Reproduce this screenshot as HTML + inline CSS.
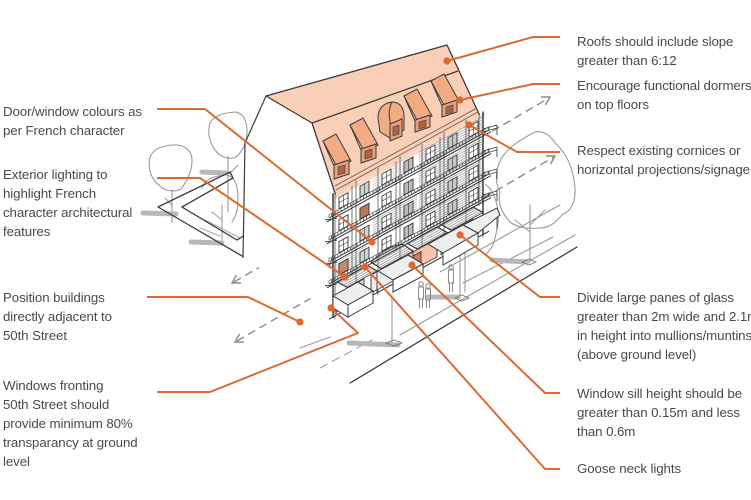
<!DOCTYPE html>
<html><head><meta charset="utf-8">
<style>
html,body{margin:0;padding:0;background:#fff;}
body{width:751px;height:500px;position:relative;overflow:hidden;}
svg{position:absolute;left:0;top:0;}
.t{position:absolute;font-family:"Liberation Sans",sans-serif;font-size:13.3px;line-height:19px;color:#4a4a4a;white-space:nowrap;letter-spacing:-0.1px;}
</style></head><body>
<svg width="751" height="500" viewBox="0 0 751 500" xmlns="http://www.w3.org/2000/svg">
<defs>
<pattern id="hh" width="3" height="2.4" patternUnits="userSpaceOnUse"><path d="M0 1.2H3" stroke="#7a7a7a" stroke-width="0.7"/></pattern>
<pattern id="vh" width="3.2" height="3" patternUnits="userSpaceOnUse"><path d="M1.6 0V3" stroke="#444" stroke-width="0.7"/></pattern>
</defs>

<!-- ground / street lines -->
<g fill="none" stroke="#9a9a9a" stroke-width="1.1" stroke-linecap="round">
<line x1="300" y1="348" x2="330" y2="337"/>
<line x1="400" y1="335" x2="575" y2="235"/>
<line x1="440" y1="272" x2="560" y2="205"/>
<line x1="463" y1="283" x2="553" y2="237"/>
<line x1="320" y1="368" x2="372" y2="340" stroke-dasharray="8 6"/>
<line x1="392" y1="298" x2="392" y2="345"/>
<line x1="460" y1="252" x2="460" y2="298"/>
<line x1="530" y1="205" x2="530" y2="262"/>
<line x1="530" y1="225" x2="545" y2="210"/>
<line x1="530" y1="232" x2="515" y2="220"/>
<path d="M497,170 C500,155 510,145 535,132 C545,130 552,138 556,144 C565,152 573,165 575,188 C576,202 570,212 563,214 C556,222 550,228 540,228 C528,229 518,228 510,222 C503,214 497,205 500,192 C496,185 496,178 497,170 Z"/>
<path d="M480,182 C488,184 494,192 497,205 C500,220 497,232 493,245 C490,250 488,253 485,255"/>
<line x1="465" y1="245" x2="465" y2="292"/>
<path d="M150,157 C153,150 160,146 172,145 C184,144 192,150 192,160 C192,170 188,180 181,189 C175,192 167,192 160,186 C152,180 147,170 150,157 Z"/>
<line x1="172" y1="190" x2="172" y2="222"/>
<line x1="172" y1="205" x2="165" y2="198"/>
<path d="M210,123 C214,116 222,113 235,112 C243,113 247,120 247,132 C247,143 242,152 236,157 C230,160 221,158 215,150 C210,143 207,133 210,123 Z"/>
<line x1="228" y1="156" x2="228" y2="212"/>
<line x1="228" y1="175" x2="238" y2="165"/>
<path d="M202,188 C205,180 212,176 226,175 C235,176 238,185 238,200 C238,210 236,216 232,222"/>
<line x1="222" y1="205" x2="222" y2="246"/>
<line x1="222" y1="220" x2="212" y2="212"/>
<line x1="205" y1="220" x2="240" y2="238" stroke="#aaa"/>
<line x1="200" y1="228" x2="220" y2="236" stroke="#aaa"/>
</g>

<g stroke="#b8b8b8" stroke-width="5" stroke-linecap="round" fill="none">
<line x1="143" y1="213" x2="176" y2="214"/>
<line x1="202" y1="172" x2="226" y2="173"/>
<line x1="191" y1="242" x2="222" y2="243"/>
<line x1="349" y1="343" x2="398" y2="345"/>
<line x1="428" y1="297" x2="458" y2="297"/>
<line x1="492" y1="260" x2="527" y2="262"/>
</g>
<g fill="none" stroke="#777" stroke-width="0.9">
<path d="M386,343 l8,-3 l8,3 l-8,3 z"/>
<path d="M455,298 l7,-3 l7,3 l-7,3 z"/>
<path d="M522,262 l7,-3 l7,3 l-7,3 z"/>
</g>

<g fill="none" stroke="#888" stroke-width="1">
<circle cx="421" cy="284" r="2.3"/><path d="M418.5,287 h5 v12 h-5 z M419.5,299 v9 M422.5,299 v9"/>
<circle cx="428" cy="286" r="2.3"/><path d="M425.5,289 h5 v11 h-5 z M426.5,300 v8 M429.5,300 v8"/>
<circle cx="451" cy="267" r="2.3"/><path d="M448.5,270 h5 v13 h-5 z M449.5,283 v9 M452.5,283 v9"/>
</g>

<g fill="none" stroke="#8a8a8a" stroke-width="1.4">
<line x1="234" y1="282" x2="549" y2="98" stroke-dasharray="8 5"/>
<line x1="237" y1="341" x2="554" y2="157" stroke-dasharray="8 5"/>
<path d="M241,283 L232,283 L236.5,275"/>
<path d="M244,342 L235,342 L239.5,334"/>
<path d="M541,97 L550,97 L545.5,105"/>
<path d="M546,156 L555,156 L550.5,164"/>
</g>

<g fill="none" stroke="#3c3c3c" stroke-width="1.3" stroke-linecap="round">
<line x1="158" y1="207" x2="316" y2="299"/>
<path d="M158,207 L230,172 L233,178 L182,207 L237,240 L245,235"/>
<line x1="350" y1="383" x2="577" y2="247"/>
</g>

<path d="M266,96 L312,123 L335,195 L333,312 L243,258 L245,143 Z" fill="#fff"/>
<g fill="none" stroke="#3c3c3c" stroke-width="1.2">
<path d="M266,96 L245,143 L243,258"/>
</g>

<!-- roof -->
<path d="M266,96 L447,45 L480,116 L336,196 L312,123 Z" fill="#f9d0b7" stroke="#3a3a3a" stroke-width="1.3" stroke-linejoin="round"/>
<line x1="312" y1="123" x2="458" y2="71" stroke="#3a3a3a" stroke-width="1.2"/>
<g stroke="#6b5a50" stroke-width="0.8" fill="none">
<line x1="335" y1="186" x2="477" y2="108"/>
<line x1="336" y1="190" x2="478" y2="112"/>
</g>

<g stroke="#3a3a3a" stroke-width="1">
<g transform="translate(323,134)">
<path d="M0,7 L13,0 L28,27 L14,33 Z" fill="#f3ab84"/>
<path d="M0,7 L11,32" fill="none"/>
<path d="M11,31 L26,26 L26,40 L11,45 Z" fill="#eba07a"/>
<path d="M15,33 L22,31 L22,39 L15,41 Z" fill="#a9654a" stroke-width="0.6"/>
</g>
<g transform="translate(350,118)">
<path d="M0,7 L13,0 L28,27 L14,33 Z" fill="#f3ab84"/>
<path d="M0,7 L11,32" fill="none"/>
<path d="M11,31 L26,26 L26,40 L11,45 Z" fill="#eba07a"/>
<path d="M15,33 L22,31 L22,39 L15,41 Z" fill="#a9654a" stroke-width="0.6"/>
</g>
<g transform="translate(377,102)">
<path d="M1,16 C1,6 7,1 15,0 C23,0 27,6 27,14 L27,28 L13,36 L3,30 Z" fill="#f3ab84"/>
<path d="M15,0 C11,8 12,14 13,18 L13,36" fill="none"/>
<path d="M13,22 L25,17 L25,34 L13,39 Z" fill="#eba07a"/>
<path d="M16,25 L22,23 L22,32 L16,34 Z" fill="#a9654a" stroke-width="0.6"/>
</g>
<g transform="translate(404,89)">
<path d="M0,7 L13,0 L28,27 L14,33 Z" fill="#f3ab84"/>
<path d="M0,7 L11,32" fill="none"/>
<path d="M11,31 L26,26 L26,38 L11,43 Z" fill="#eba07a"/>
<path d="M15,33 L22,31 L22,38 L15,40 Z" fill="#a9654a" stroke-width="0.6"/>
</g>
<g transform="translate(431,74)">
<path d="M0,7 L13,0 L28,27 L14,33 Z" fill="#f3ab84"/>
<path d="M0,7 L11,32" fill="none"/>
<path d="M11,31 L26,26 L26,38 L11,43 Z" fill="#eba07a"/>
<path d="M15,33 L22,31 L22,38 L15,40 Z" fill="#a9654a" stroke-width="0.6"/>
</g>
</g>

<!-- facade (skewed) -->
<g transform="matrix(1,-0.55,0,1,333,196)">
<rect x="0" y="0" width="152" height="122" fill="#fff"/>
<rect x="0" y="0" width="152" height="4" fill="#f6d6c4"/>
<rect x="86" y="2" width="64" height="86" fill="url(#hh)" opacity="0.85"/>
<rect x="40" y="46" width="44" height="22" fill="url(#hh)" opacity="0.7"/>
<rect x="0" y="68" width="34" height="20" fill="url(#hh)" opacity="0.7"/>
<rect x="40" y="4" width="30" height="18" fill="url(#hh)" opacity="0.5"/>
<g stroke="#555" stroke-width="0.8">
<line x1="2" y1="-3" x2="2" y2="124"/><line x1="23" y1="-3" x2="23" y2="124"/>
<line x1="45" y1="-3" x2="45" y2="124"/><line x1="67" y1="-3" x2="67" y2="124"/>
<line x1="89" y1="-3" x2="89" y2="124"/><line x1="111" y1="-3" x2="111" y2="124"/>
<line x1="133" y1="-3" x2="133" y2="124"/><line x1="150" y1="-3" x2="150" y2="124"/>
<line x1="19" y1="0" x2="19" y2="90"/><line x1="63" y1="0" x2="63" y2="90"/>
<line x1="107" y1="0" x2="107" y2="90"/><line x1="146" y1="0" x2="146" y2="90"/>
</g>
<g stroke="#333" stroke-width="0.9">
<g id="fl">
<rect x="6" y="5" width="9" height="11" fill="#fff"/><rect x="27" y="5" width="9" height="11" fill="#d0d0d0"/>
<rect x="49" y="5" width="9" height="11" fill="#fff"/><rect x="71" y="5" width="9" height="11" fill="#bdbdbd"/>
<rect x="93" y="5" width="9" height="11" fill="#fff"/><rect x="115" y="5" width="9" height="11" fill="#c8c8c8"/>
<rect x="136" y="5" width="9" height="11" fill="#fff"/>
<path d="M10.5,5v11M31.5,5v11M53.5,5v11M75.5,5v11M97.5,5v11M119.5,5v11M140.5,5v11M6,10h9M49,10h9M93,10h9M136,10h9" stroke-width="0.6"/>
<rect x="-4" y="16.5" width="160" height="3" fill="url(#vh)" stroke-width="0.6"/>
<line x1="-6" y1="22.5" x2="158" y2="22.5" stroke-width="1.1"/>
<line x1="-3" y1="20" x2="156" y2="20" stroke-width="0.6"/>
</g>
<use href="#fl" y="22"/>
<use href="#fl" y="44"/>
<use href="#fl" y="66"/>
</g>
<rect x="27" y="27" width="9" height="11" fill="#b9785a" stroke="#333" stroke-width="0.8"/>
<rect x="6" y="71" width="9" height="11" fill="#c58a6c" stroke="#333" stroke-width="0.8"/>
<g stroke="#333" stroke-width="0.9">
<rect x="3" y="100" width="28" height="18" fill="#f1dccf"/>
<rect x="38" y="100" width="30" height="18" fill="#ededed"/>
<rect x="74" y="100" width="30" height="18" fill="#f4c5aa"/>
<rect x="108" y="100" width="32" height="18" fill="#e6e6e6"/>
<rect x="80" y="104" width="8" height="12" fill="#c4805f"/>
<rect x="116" y="103" width="8" height="12" fill="#a78673"/>
<rect x="10" y="103" width="7" height="12" fill="#d79e80"/>
<path d="M4,88 L34,88 L44,99 L14,99 Z" fill="url(#hh)"/>
<path d="M38,87 C48,82 62,82 70,87 L80,99 L48,99 Z" fill="url(#hh)"/>
<path d="M74,88 L104,88 L114,99 L84,99 Z" fill="url(#hh)"/>
<path d="M108,88 L140,88 L150,99 L118,99 Z" fill="url(#hh)"/>
<path d="M44,99 v22 M80,99 v22 M114,99 v22 M150,99 v22" />
<line x1="-4" y1="121" x2="156" y2="121" stroke-width="1.2"/>
</g>
</g>
<g fill="none" stroke="#333" stroke-width="1.4">
<line x1="333" y1="193" x2="333" y2="318"/>
<line x1="483" y1="112" x2="483" y2="235"/>
</g>
<g fill="none" stroke="#444" stroke-width="0.9">
<path d="M483,129 l14,-4 M483,132 l14,-4 M497,125 v10"/>
<path d="M483,151 l14,-4 M483,154 l14,-4 M497,147 v10"/>
<path d="M483,173 l14,-4 M483,176 l14,-4 M497,169 v10"/>
<path d="M483,195 l14,-4 M483,198 l14,-4 M497,191 v10"/>
<path d="M483,217 l14,-4 M483,220 l14,-4 M497,213 v16"/>
<path d="M325,220 l12,-2 M325,242 l12,-2 M325,264 l12,-2 M325,286 l12,-2"/>
</g>
<g fill="#fff" stroke="#3a3a3a" stroke-width="1">
<path d="M333,296 L358,282 L373,291 L348,305 Z" fill="#eee"/>
<path d="M348,305 L373,291 L373,303 L348,317 Z"/>
<path d="M333,296 L348,305 L348,317 L333,308 Z"/>
<path d="M378,271 L408,255 L423,264 L393,280 Z" fill="#eee"/>
<path d="M393,280 L423,264 L423,276 L393,292 Z"/>
<path d="M428,244 L463,225 L478,233 L443,253 Z" fill="#eee"/>
<path d="M443,253 L478,233 L478,245 L443,265 Z"/>
<path d="M463,225 L497,208 L500,215 L478,233 Z" fill="#eee"/>
<path d="M358,282 L373,291 M408,255 L423,264" fill="none"/>
</g>

<!-- orange leaders -->
<g fill="none" stroke="#dd6a2f" stroke-width="2" stroke-linejoin="round">
<polyline points="157,109 205,109 372,242"/>
<polyline points="157,178 200,178 345,277"/>
<polyline points="147,297 248,297 300,322"/>
<polyline points="157,392 210,392 358,333 331,308"/>
<polyline points="447,61 533,37 560,37"/>
<polyline points="460,100 533,84 560,84"/>
<polyline points="469,125 517,152 560,152"/>
<polyline points="460,235 540,297 560,297"/>
<polyline points="412,265 545,393 560,393"/>
<polyline points="365,267 545,469 560,469"/>
</g>
<g fill="#dd6a2f">
<circle cx="372" cy="242" r="3.6"/><circle cx="345" cy="277" r="3.6"/>
<circle cx="300" cy="322" r="3.6"/><circle cx="331" cy="308" r="3.6"/>
<circle cx="447" cy="61" r="3.6"/><circle cx="460" cy="100" r="3.6"/>
<circle cx="469" cy="125" r="3.6"/><circle cx="460" cy="235" r="3.6"/>
<circle cx="412" cy="265" r="3.6"/><circle cx="365" cy="267" r="3.6"/>
</g>
</svg>

<div class="t" style="left:3px;top:102px;">Door/window colours as<br>per French character</div>
<div class="t" style="left:3px;top:165px;">Exterior lighting to<br>highlight French<br>character architectural<br>features</div>
<div class="t" style="left:3px;top:288px;">Position buildings<br>directly adjacent to<br>50th Street</div>
<div class="t" style="left:3px;top:376px;">Windows fronting<br>50th Street should<br>provide minimum 80%<br>transparancy at ground<br>level</div>

<div class="t" style="left:577px;top:32px;">Roofs should include slope<br>greater than 6:12</div>
<div class="t" style="left:577px;top:76px;">Encourage functional dormers<br>on top floors</div>
<div class="t" style="left:577px;top:141px;">Respect existing cornices or<br>horizontal projections/signage</div>
<div class="t" style="left:577px;top:288px;">Divide large panes of glass<br>greater than 2m wide and 2.1m<br>in height into mullions/muntins<br>(above ground level)</div>
<div class="t" style="left:577px;top:384px;">Window sill height should be<br>greater than 0.15m and less<br>than 0.6m</div>
<div class="t" style="left:577px;top:459px;">Goose neck lights</div>
</body></html>
